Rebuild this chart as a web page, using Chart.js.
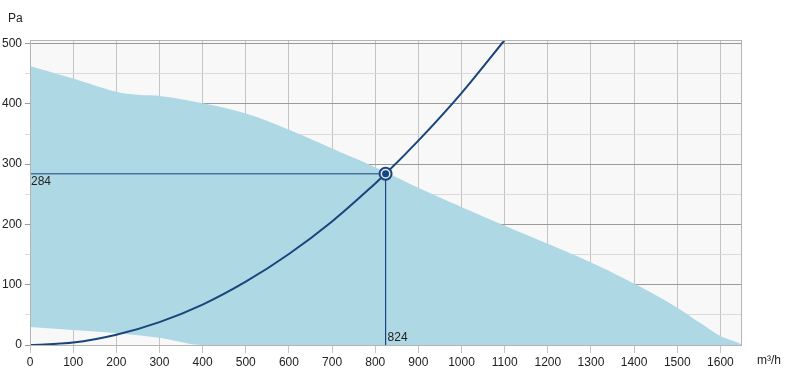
<!DOCTYPE html>
<html>
<head>
<meta charset="utf-8">
<script src="https://cdn.jsdelivr.net/npm/chart.js@4"></script>
<style>
  html, body { margin: 0; padding: 0; background: #fff; }
  #wrap { width: 787px; height: 381px; }
</style>
</head>
<body>
<div id="wrap"><canvas id="fanChart" width="787" height="381"></canvas></div>
<script>
// fan working range (upper and lower edge at the same flows)
const flowX    = [0, 100, 200, 250, 300, 400, 500, 600, 700, 800, 900, 1000, 1100, 1200, 1300, 1400, 1500, 1550, 1600, 1640, 1650];
const rangeTop = [463, 442, 420, 415, 413, 401, 384, 357, 326, 295, 261, 229, 198, 168, 137, 102, 62, 38, 15, 4, 0];
const rangeLow = [30, 25, 20, 16, 12, 0, 0, 0, 0, 0, 0, 0, 0, 0, 0, 0, 0, 0, 0, 0, 0];

// system curve
const sysX = [0, 100, 200, 300, 400, 500, 600, 700, 800, 824, 900, 1000, 1100];
const sysY = [0, 4, 17, 38, 67, 105, 151, 205, 268, 284, 339, 418, 506];

// operating point
const opFlow = 824;
const opPressure = 284;

const xTicksMax = 1650;
const yTicksMax = 506;

const fillColor = 'rgb(174, 216, 228)';
const navy = '#17457c';

function pts(xs, ys) {
    return xs.map((x, i) => ({ x: x, y: ys[i] }));
}

const areaPlugin = {
    id: 'areaPlugin',
    beforeDraw(chart) {
        const a = chart.chartArea;
        const c = chart.ctx;
        c.save();
        c.fillStyle = '#f8f8f8';
        c.fillRect(a.left, a.top, a.right - a.left, a.bottom - a.top);
        c.restore();
    },
    afterDraw(chart) {
        const a = chart.chartArea;
        const c = chart.ctx;
        const xs = chart.scales.x;
        const ys = chart.scales.y;
        c.save();
        c.strokeStyle = '#b4b4b4';
        c.lineWidth = 1;
        c.strokeRect(a.left + 0.5, a.top + 0.5, a.right - a.left - 1, a.bottom - a.top);
        c.fillStyle = '#222';
        c.font = '12px "Liberation Sans", Arial, sans-serif';
        c.textBaseline = 'middle';
        c.textAlign = 'left';
        c.fillText('Pa', 8, 19);
        c.fillText('m³/h', 757, 361);
        c.fillText(String(opPressure), a.left + 1, ys.getPixelForValue(opPressure) + 8);
        c.fillText(String(opFlow), xs.getPixelForValue(opFlow) + 2, a.bottom - 7);
        c.restore();
    }
};

const ctx = document.getElementById('fanChart').getContext('2d');
new Chart(ctx, {
    type: 'line',
    data: {
        datasets: [{
            data: pts(flowX, rangeTop),
            borderWidth: 0,
            borderColor: fillColor,
            backgroundColor: fillColor,
            pointRadius: 0,
            fill: '+1',
            tension: 0.4,
            order: 5
        }, {
            data: pts(flowX, rangeLow),
            borderWidth: 0,
            borderColor: fillColor,
            pointRadius: 0,
            fill: false,
            cubicInterpolationMode: 'monotone',
            order: 5
        }, {
            data: [{ x: 0, y: opPressure }, { x: opFlow, y: opPressure }],
            borderColor: navy,
            borderWidth: 1,
            pointRadius: 0,
            fill: false,
            order: 3
        }, {
            data: [{ x: opFlow, y: opPressure }, { x: opFlow, y: 0 }],
            borderColor: navy,
            borderWidth: 1,
            pointRadius: 0,
            fill: false,
            order: 3
        }, {
            data: pts(sysX, sysY),
            borderColor: navy,
            borderWidth: 2,
            pointRadius: 0,
            fill: false,
            cubicInterpolationMode: 'monotone',
            order: 2
        }, {
            data: [{ x: opFlow, y: opPressure }],
            borderColor: navy,
            backgroundColor: '#dfe9f2',
            borderWidth: 2,
            pointRadius: 6,
            showLine: false,
            order: 1
        }, {
            data: [{ x: opFlow, y: opPressure }],
            borderColor: navy,
            backgroundColor: navy,
            borderWidth: 0,
            pointRadius: 3.5,
            showLine: false,
            order: 0
        }]
    },
    options: {
        responsive: false,
        animation: false,
        layout: { padding: { top: 40, right: 45, left: 0, bottom: 0 } },
        plugins: {
            legend: { display: false },
            tooltip: { enabled: false }
        },
        scales: {
            x: {
                type: 'linear',
                min: 0,
                max: xTicksMax,
                afterFit(scale) { scale.height = 36; },
                border: { display: false },
                grid: { color: '#c4c4c4', tickLength: 8, drawTicks: true },
                ticks: {
                    stepSize: 100,
                    includeBounds: false,
                    padding: 2,
                    maxRotation: 0,
                    autoSkip: false,
                    color: '#222',
                    font: { family: '"Liberation Sans", Arial, sans-serif', size: 12 },
                    callback: v => String(v)
                }
            },
            y: {
                type: 'linear',
                min: 0,
                max: yTicksMax,
                afterFit(scale) { scale.width = 30; },
                border: { display: false },
                grid: {
                    tickLength: 5,
                    color: c => (c.tick && c.tick.value % 100 === 0 ? '#9a9a9a' : '#dadada')
                },
                ticks: {
                    stepSize: 50,
                    includeBounds: false,
                    autoSkip: false,
                    padding: 3,
                    color: '#222',
                    font: { family: '"Liberation Sans", Arial, sans-serif', size: 12 },
                    callback: v => (v % 100 === 0 ? String(v) : '')
                }
            }
        }
    },
    plugins: [areaPlugin]
});
</script>
</body>
</html>
